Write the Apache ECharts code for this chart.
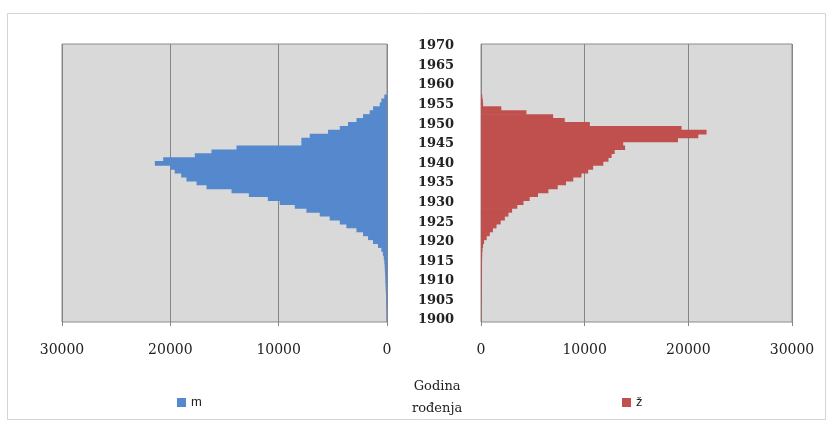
<!DOCTYPE html>
<html>
<head>
<meta charset="utf-8">
<script src="https://cdn.jsdelivr.net/npm/echarts@6/dist/echarts.min.js"></script>
<style>
html,body{margin:0;padding:0;background:#fff;}
#c{width:832px;height:425px;}
</style>
</head>
<body>
<div id="c"></div>
<script>
// Godina rođenja 1900..1970
const years = [];
for (let y = 1900; y <= 1970; y++) years.push(String(y));

// m (men), 1900..1970
const male = [
  40, 40, 50, 60, 70, 80, 90, 100, 120, 130,          // 1900-1909
  150, 160, 180, 200, 220, 250, 300, 380, 520, 830,   // 1910-1919
  1290, 1750, 2210, 2820, 3750, 4360, 5290, 6210, 7440, 8510, // 1920-1929
  9900, 11000, 12750, 14350, 16660, 17580, 18510, 19000, 19600, 19980, // 1930-1939
  21430, 20660, 17740, 16200, 13890, 7900, 7900, 7130, 5440, 4360, // 1940-1949
  3600, 2820, 2210, 1600, 1290, 670, 520, 250, 0, 0,   // 1950-1959
  0, 0, 0, 0, 0, 0, 0, 0, 0, 0,                        // 1960-1969
  0                                                    // 1970
];

// ž (women), 1900..1970
const female = [
  30, 30, 35, 40, 45, 50, 55, 60, 65, 70,             // 1900-1909
  75, 80, 85, 90, 95, 100, 110, 120, 150, 200,        // 1910-1919
  300, 550, 850, 1150, 1500, 1900, 2300, 2650, 3000, 3500, // 1920-1929
  4100, 4700, 5500, 6500, 7400, 8200, 8900, 9690, 10340, 10820, // 1930-1939
  11800, 12300, 12600, 12900, 13900, 13720, 19000, 20960, 21760, 19350, // 1940-1949
  10500, 8080, 6960, 4380, 1960, 200, 180, 120, 0, 0, // 1950-1959
  0, 0, 0, 0, 0, 0, 0, 0, 0, 0,                       // 1960-1969
  0                                                   // 1970
];

const valueTicks = [0, 10000, 20000, 30000];

const chart = echarts.init(document.getElementById('c'), null, {renderer: 'canvas'});

const axisFont = 'DejaVu Serif';
const xCommon = {
  type: 'value',
  min: valueTicks[0],
  max: valueTicks[valueTicks.length - 1],
  interval: 10000,
  axisLine: {show: false},
  axisTick: {show: true, length: 4, lineStyle: {color: '#868686', width: 1}},
  splitLine: {show: true, lineStyle: {color: '#868686', width: 1}},
  axisLabel: {
    show: true, margin: 21, fontFamily: axisFont, fontSize: 14, color: '#222',
    showMinLabel: true, showMaxLabel: true,
    formatter: v => String(v)
  }
};

const blue = '#5588cc';
const red = '#c0504d';

chart.setOption({
  animation: false,
  backgroundColor: '#ffffff',
  graphic: [
    {type: 'rect', shape: {x: 7.5, y: 13.5, width: 818, height: 406},
     style: {fill: 'none', stroke: '#d4d4d4', lineWidth: 1}, silent: true, z: -10},
    {type: 'text', left: 412, top: 376,
     style: {text: 'Godina\nrođenja', fontFamily: axisFont, fontSize: 13, fill: '#222',
             textAlign: 'center', lineHeight: 22}}
  ],
  legend: [
    {data: ['m'], left: 172, top: 391, icon: 'rect', itemWidth: 9, itemHeight: 9, itemGap: 4,
     textStyle: {fontFamily: 'Liberation Sans', fontSize: 13, color: '#222'}},
    {data: ['ž'], left: 617, top: 391, icon: 'rect', itemWidth: 9, itemHeight: 9, itemGap: 4,
     textStyle: {fontFamily: 'Liberation Sans', fontSize: 13, color: '#222'}}
  ],
  grid: [
    {left: 62, top: 44, width: 325, height: 278, show: true, backgroundColor: '#d9d9d9',
     borderColor: '#8c8c8c', borderWidth: 1, containLabel: false},
    {left: 481, top: 44, width: 311, height: 278, show: true, backgroundColor: '#d9d9d9',
     borderColor: '#8c8c8c', borderWidth: 1, containLabel: false}
  ],
  xAxis: [
    Object.assign({}, xCommon, {gridIndex: 0, inverse: true}),
    Object.assign({}, xCommon, {gridIndex: 1})
  ],
  yAxis: [
    {type: 'category', gridIndex: 0, data: years, axisLine: {show: false},
     axisTick: {show: false}, axisLabel: {show: false}, splitLine: {show: false}},
    {type: 'category', gridIndex: 1, data: years, position: 'left',
     axisLine: {show: false}, axisTick: {show: false}, splitLine: {show: false},
     axisLabel: {
       show: true, margin: 45, align: 'center', fontFamily: axisFont, fontWeight: 'bold',
       fontSize: 13, color: '#222',
       interval: (idx, val) => (+val) % 5 === 0
     }}
  ],
  series: [
    {name: 'm', type: 'bar', xAxisIndex: 0, yAxisIndex: 0, data: male,
     barWidth: 4.6, itemStyle: {color: blue}},
    {name: 'ž', type: 'bar', xAxisIndex: 1, yAxisIndex: 1, data: female,
     barWidth: 4.6, itemStyle: {color: red}}
  ]
});
</script>
</body>
</html>
